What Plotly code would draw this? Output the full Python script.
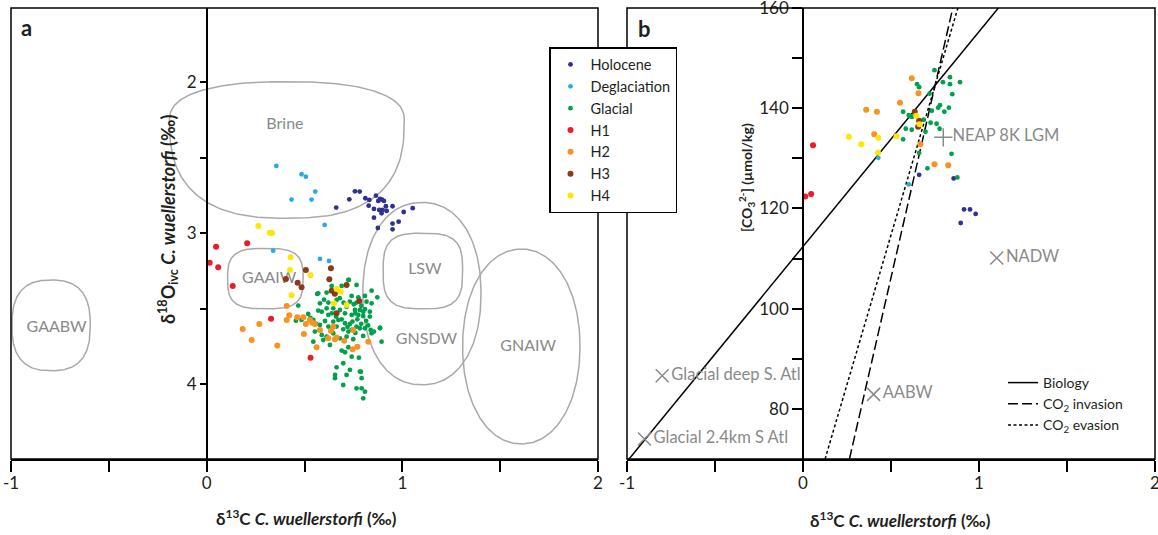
import numpy as np
import plotly.graph_objects as go

# ---------------- Panel a data: d13C (x) vs d18O ivc (y) ----------------
holocene_a_x = [0.758, 0.782, 0.729, 0.662, 0.811, 0.831, 0.865, 0.828, 0.886, 0.896, 0.877, 0.906, 0.916,
                0.855, 0.882, 0.899, 0.920, 0.894, 0.950, 0.855, 1.007, 1.053, 0.875, 0.950, 0.981, 0.950]
holocene_a_y = [2.722, 2.724, 2.775, 2.830, 2.768, 2.779, 2.751, 2.817, 2.773, 2.777, 2.786, 2.786, 2.821,
                2.839, 2.846, 2.846, 2.852, 2.868, 2.821, 2.897, 2.859, 2.834, 2.965, 2.936, 2.923, 2.974]

deglac_a_x = [0.356, 0.485, 0.507, 0.555, 0.434, 0.536, 0.603, 0.340, 0.579, 0.625]
deglac_a_y = [2.554, 2.609, 2.625, 2.724, 2.777, 2.777, 2.945, 3.115, 3.170, 3.183]

glacial_a_x = [0.724, 0.639, 0.766, 0.570, 0.613, 0.741, 0.775, 0.809, 0.872, 0.579, 0.622, 0.664, 0.732,
               0.766, 0.817, 0.843, 0.468, 0.613, 0.647, 0.681, 0.715, 0.758, 0.783, 0.809, 0.834, 0.570,
               0.588, 0.519, 0.622, 0.661, 0.707, 0.741, 0.775, 0.800, 0.834, 0.456, 0.485, 0.545, 0.605,
               0.647, 0.673, 0.707, 0.732, 0.766, 0.783, 0.809, 0.838, 0.855, 0.886, 0.579, 0.622, 0.664,
               0.698, 0.741, 0.553, 0.588, 0.613, 0.647, 0.724, 0.843, 0.894, 0.545, 0.596, 0.681, 0.715,
               0.749, 0.630, 0.690, 0.707, 0.724, 0.741, 0.778, 0.698, 0.664, 0.732, 0.783, 0.656, 0.715,
               0.656, 0.792, 0.698, 0.766, 0.792, 0.809, 0.800, 0.565, 0.843, 0.886, 0.788, 0.690, 0.727,
               0.752, 0.790, 0.760, 0.800, 0.770, 0.815, 0.745, 0.790, 0.825, 0.700, 0.680, 0.600, 0.640,
               0.690, 0.720, 0.760, 0.800, 0.640, 0.560, 0.530]
glacial_a_y = [3.309, 3.349, 3.342, 3.398, 3.393, 3.415, 3.424, 3.415, 3.424, 3.464, 3.459, 3.442, 3.453,
               3.459, 3.453, 3.464, 3.479, 3.497, 3.497, 3.508, 3.486, 3.508, 3.508, 3.503, 3.519, 3.512,
               3.519, 3.534, 3.541, 3.552, 3.530, 3.541, 3.541, 3.548, 3.552, 3.579, 3.574, 3.574, 3.581,
               3.585, 3.574, 3.596, 3.601, 3.618, 3.629, 3.629, 3.640, 3.651, 3.629, 3.607, 3.618, 3.618,
               3.636, 3.640, 3.651, 3.673, 3.684, 3.662, 3.651, 3.662, 3.718, 3.718, 3.707, 3.696, 3.685,
               3.702, 3.740, 3.777, 3.788, 3.755, 3.817, 3.824, 3.861, 3.888, 3.905, 3.916, 3.938, 3.938,
               3.960, 3.960, 4.005, 4.027, 4.027, 4.049, 4.093, 3.402, 3.380, 3.625, 3.917, 3.349, 3.309,
               3.470, 3.480, 3.530, 3.520, 3.570, 3.580, 3.585, 3.600, 3.610, 3.460, 3.430, 3.440, 3.530,
               3.570, 3.620, 3.660, 3.680, 3.630, 3.600, 3.560]

h1_a_x = [0.048, 0.015, 0.059, 0.207, 0.133, 0.329, 0.531]
h1_a_y = [3.089, 3.195, 3.225, 3.066, 3.349, 3.566, 3.824]

h2_a_x = [0.409, 0.422, 0.184, 0.230, 0.269, 0.361, 0.409, 0.463, 0.494, 0.507, 0.528, 0.540, 0.553,
          0.497, 0.579, 0.562, 0.621, 0.635, 0.656, 0.664, 0.647, 0.703, 0.749, 0.746, 0.770, 0.826]
h2_a_y = [3.481, 3.543, 3.634, 3.707, 3.601, 3.744, 3.574, 3.556, 3.556, 3.601, 3.574, 3.592, 3.601,
          3.667, 3.640, 3.755, 3.695, 3.645, 3.702, 3.691, 3.619, 3.711, 3.640, 3.768, 3.751, 3.718]

h3_a_x = [0.507, 0.405, 0.465, 0.485, 0.635, 0.627, 0.715, 0.639, 0.664, 0.780, 0.655]
h3_a_y = [3.243, 3.303, 3.327, 3.358, 3.232, 3.305, 3.342, 3.380, 3.530, 3.448, 3.400]

h4_a_x = [0.264, 0.323, 0.334, 0.429, 0.426, 0.531, 0.434, 0.664, 0.685, 0.650, 0.715]
h4_a_y = [2.952, 2.996, 2.998, 3.159, 3.243, 3.278, 3.411, 3.369, 3.387, 3.464, 3.475]

# Water-mass regions (panel a)
region_names = ["Brine", "GAABW", "GAAIW", "LSW", "GNSDW", "GNAIW"]
region_cx = [0.41, -0.795, 0.30, 1.105, 1.10, 1.608]
region_cy = [2.25, 3.61, 3.30, 3.25, 3.40, 3.75]
region_halfwidth = [0.60, 0.20, 0.193, 0.203, 0.302, 0.30]
region_halfheight_top = [0.254, 0.30, 0.20, 0.25, 0.604, 0.645]
region_halfheight_bottom = [0.65, 0.30, 0.20, 0.25, 0.604, 0.645]
region_shape_top = [2.4, 2.6, 3.2, 3.2, 2.2, 2.1]
region_shape_bottom = [2.6, 2.6, 3.2, 3.2, 2.2, 2.1]
region_label_x = [0.40, -0.767, 0.32, 1.115, 1.123, 1.643]
region_label_y = [2.28, 3.63, 3.30, 3.24, 3.71, 3.755]

# ---------------- Panel b data: d13C (x) vs [CO3 2-] (y) ----------------
holocene_b_x = [0.660, 0.856, 0.915, 0.949, 0.981, 0.896]
holocene_b_y = [126.7, 126.0, 119.8, 119.8, 118.9, 117.1]

deglac_b_x = [0.428, 0.601]
deglac_b_y = [130.1, 124.8]

glacial_b_x = [0.747, 0.835, 0.795, 0.835, 0.892, 0.648, 0.660, 0.719, 0.848, 0.778, 0.829, 0.768, 0.732,
               0.803, 0.569, 0.601, 0.620, 0.685, 0.725, 0.759, 0.776, 0.584, 0.618, 0.696, 0.569, 0.844,
               0.707, 0.877, 0.660, 0.611]
glacial_b_y = [147.6, 146.2, 145.2, 144.8, 145.2, 144.8, 144.2, 142.9, 142.8, 140.6, 140.1, 140.1, 139.5,
               139.3, 139.3, 138.6, 138.3, 137.7, 137.1, 136.9, 135.9, 135.9, 135.7, 135.3, 133.8, 130.9,
               128.0, 126.2, 131.1, 138.4]

h1_b_x = [0.057, 0.013, 0.046]
h1_b_y = [132.6, 122.4, 122.9]

h2_b_x = [0.618, 0.656, 0.551, 0.359, 0.420, 0.405, 0.667, 0.747, 0.825]
h2_b_y = [146.0, 143.0, 141.1, 139.7, 139.3, 134.8, 132.8, 128.8, 128.6]

h3_b_x = [0.635, 0.660, 0.654]
h3_b_y = [139.3, 137.5, 136.3]

h4_b_x = [0.261, 0.331, 0.428, 0.531, 0.426, 0.643, 0.662]
h4_b_y = [134.3, 132.8, 134.1, 134.4, 131.1, 138.5, 136.8]

# Reference water masses (panel b)
ref_names = ["NEAP 8K LGM", "NADW", "AABW", "Glacial deep S. Atl", "Glacial 2.4km S Atl"]
ref_x = [0.797, 1.101, 0.401, -0.800, -0.901]
ref_y = [134.2, 110.1, 82.9, 86.6, 74.0]

# Model lines (panel b)
biology_x = [-1.0, 1.11]
biology_y = [69.5, 160.0]
invasion_x = [0.264, 0.851]
invasion_y = [70.0, 160.0]
evasion_x = [0.1255, 0.880]
evasion_y = [70.0, 160.0]

series_names = ["Holocene", "Deglaciation", "Glacial", "H1", "H2", "H3", "H4"]
series_colors = ["#2e3192", "#29abe2", "#00a14b", "#ed1c24", "#f7931e", "#8b3a1a", "#ffe600"]
series_sizes = [4.8, 4.8, 4.8, 6, 6, 6, 6]
panel_a = [(holocene_a_x, holocene_a_y), (deglac_a_x, deglac_a_y), (glacial_a_x, glacial_a_y),
           (h1_a_x, h1_a_y), (h2_a_x, h2_a_y), (h3_a_x, h3_a_y), (h4_a_x, h4_a_y)]
panel_b = [(holocene_b_x, holocene_b_y), (deglac_b_x, deglac_b_y), (glacial_b_x, glacial_b_y),
           (h1_b_x, h1_b_y), (h2_b_x, h2_b_y), (h3_b_x, h3_b_y), (h4_b_x, h4_b_y)]

FONT = "Lato"
GRAY_TXT = "#8a8a8a"
GRAY_LINE = "#a9a9a9"
INK = "#231f20"

fig = go.Figure()


def region_outline(cx, cy, a, bt, bb, nt, nb, m=240):
    t = np.linspace(0, 2 * np.pi, m)
    c, s = np.cos(t), np.sin(t)
    n = np.where(s < 0, nt, nb)
    b = np.where(s < 0, bt, bb)
    x = cx + a * np.sign(c) * np.abs(c) ** (2 / n)
    y = cy + b * np.sign(s) * np.abs(s) ** (2 / n)
    return x, y


for i in range(len(region_names)):
    rx, ry = region_outline(region_cx[i], region_cy[i], region_halfwidth[i], region_halfheight_top[i],
                            region_halfheight_bottom[i], region_shape_top[i], region_shape_bottom[i])
    fig.add_trace(go.Scatter(x=rx, y=ry, mode="lines", line=dict(color=GRAY_LINE, width=1.5),
                             hoverinfo="skip", showlegend=False, xaxis="x", yaxis="y"))

fig.add_trace(go.Scatter(x=region_label_x, y=region_label_y, text=region_names, mode="text",
                         textfont=dict(family=FONT, size=16, color=GRAY_TXT), showlegend=False,
                         hoverinfo="skip", xaxis="x", yaxis="y"))

for name, col, sz, (xa, ya) in zip(series_names, series_colors, series_sizes, panel_a):
    fig.add_trace(go.Scatter(x=xa, y=ya, mode="markers", name=name, legendgroup=name,
                             marker=dict(color=col, size=sz, line=dict(width=0)),
                             xaxis="x", yaxis="y", legend="legend"))

# Panel b
fig.add_trace(go.Scatter(x=biology_x, y=biology_y, mode="lines", name="Biology",
                         line=dict(color="black", width=1.5), xaxis="x2", yaxis="y2", legend="legend2"))
fig.add_trace(go.Scatter(x=invasion_x, y=invasion_y, mode="lines", name="CO<sub>2</sub> invasion",
                         line=dict(color="black", width=1.5, dash="10px,4px"), xaxis="x2", yaxis="y2",
                         legend="legend2"))
fig.add_trace(go.Scatter(x=evasion_x, y=evasion_y, mode="lines", name="CO<sub>2</sub> evasion",
                         line=dict(color="black", width=1.5, dash="3px,2.5px"), xaxis="x2", yaxis="y2",
                         legend="legend2"))

for name, col, sz, (xb, yb) in zip(series_names, series_colors, series_sizes, panel_b):
    fig.add_trace(go.Scatter(x=xb, y=yb, mode="markers", name=name, legendgroup=name, showlegend=False,
                             marker=dict(color=col, size=sz, line=dict(width=0)),
                             xaxis="x2", yaxis="y2"))

ref_symbols = ["cross-thin" if n.startswith("NEAP") else "x-thin" for n in ref_names]
fig.add_trace(go.Scatter(x=ref_x, y=ref_y, text=ref_names, mode="markers+text", textposition="middle right",
                         marker=dict(symbol=ref_symbols, size=13, color=GRAY_TXT,
                                     line=dict(color=GRAY_TXT, width=1.5)),
                         textfont=dict(family=FONT, size=16.5, color=GRAY_TXT), showlegend=False,
                         xaxis="x2", yaxis="y2"))

W, H = 1158, 535
ydom = [1 - 459 / H, 1 - 8 / H]
xa_dom = [11 / W, 598 / W]
xb_dom = [627 / W, 1155 / W]

tick_font = dict(family=FONT, size=17, color=INK)
common_x = dict(range=[-1, 2], showgrid=False, zeroline=False, showline=True, linecolor="black",
                linewidth=1.5, ticks="outside", ticklen=11, tickwidth=1.5, tickcolor="black",
                tickvals=[-1, 0, 1, 2], ticktext=["-1", "0", "1", "2"],
                minor=dict(tickvals=[-0.5, 0.5, 1.5], ticks="outside", ticklen=11, tickwidth=1.5,
                           tickcolor="black", showgrid=False),
                tickfont=tick_font, automargin=False, fixedrange=True, ticklabeloverflow="allow",
                ticklabelstandoff=-3)
common_y = dict(showgrid=False, zeroline=False, showline=True, linecolor="black", linewidth=1.5,
                ticks="outside", tickwidth=1.5, tickcolor="black", tickfont=tick_font,
                automargin=False, ticklabeloverflow="allow", fixedrange=True)

fig.update_layout(
    width=W, height=H,
    margin=dict(l=0, r=0, t=0, b=0),
    paper_bgcolor="white", plot_bgcolor="white",
    font=dict(family=FONT, color=INK),
    xaxis=dict(domain=xa_dom, anchor="y", **common_x),
    yaxis=dict(domain=ydom, range=[4.495, 1.508], anchor="free",
               position=xa_dom[0] + (xa_dom[1] - xa_dom[0]) / 3, ticklen=6,
               tickvals=[2, 3, 4], ticktext=["2", "3", "4"],
               minor=dict(tickvals=[2.5, 3.5], ticks="outside", ticklen=6, tickwidth=1.5,
                          tickcolor="black", showgrid=False),
               **common_y),
    xaxis2=dict(domain=xb_dom, anchor="y2", **common_x),
    yaxis2=dict(domain=ydom, range=[70, 160], anchor="free",
                position=xb_dom[0] + (xb_dom[1] - xb_dom[0]) / 3, ticklen=10,
                tickvals=[80, 100, 120, 140, 160], ticktext=["80", "100", "120", "140", "160"],
                minor=dict(tickvals=[90, 110, 130, 150], ticks="outside", ticklen=10, tickwidth=1.5,
                           tickcolor="black", showgrid=False),
                **common_y),
    legend=dict(x=549 / W, y=1 - 47 / H, xanchor="left", yanchor="top", bgcolor="white",
                bordercolor="black", borderwidth=1.5, font=dict(family=FONT, size=14.5, color=INK),
                itemwidth=30, tracegroupgap=0),
    legend2=dict(x=1003 / W, y=1 - 367 / H, xanchor="left", yanchor="top", bgcolor="rgba(0,0,0,0)",
                 borderwidth=0, font=dict(family=FONT, size=14, color=INK), itemwidth=30),
    showlegend=True,
)

# Frames
for xr, yr in (("x domain", "y domain"), ("x2 domain", "y2 domain")):
    fig.add_shape(type="rect", xref=xr, yref=yr, x0=0, x1=1, y0=0, y1=1,
                  line=dict(color="black", width=1.5), layer="above")


def label(text, x, y, size, angle=0):
    fig.add_annotation(text=text, x=x / W, y=1 - y / H, xref="paper", yref="paper", showarrow=False,
                       xanchor="center", yanchor="middle", textangle=angle,
                       font=dict(family=FONT, size=size, color=INK))


label("<b>a</b>", 26, 28, 22)
label("<b>b</b>", 644, 29, 22)
xtitle = "<b>δ<sup>13</sup>C <i>C. wuellerstorfi</i> (‰)</b>"
label(xtitle, 306, 517, 17)
label(xtitle, 900, 519, 17)
label("<b>δ<sup>18</sup>O<sub>ivc</sub> <i>C. wuellerstorfi</i> (‰)</b>", 168, 220, 18, -90)
label("<b>[CO<sub>3</sub><sup>2-</sup>] (µmol/kg)</b>", 746, 178, 14, -90)

fig.write_html("out.html", config={"displayModeBar": False},
               post_script="document.body.style.margin='0px';")
